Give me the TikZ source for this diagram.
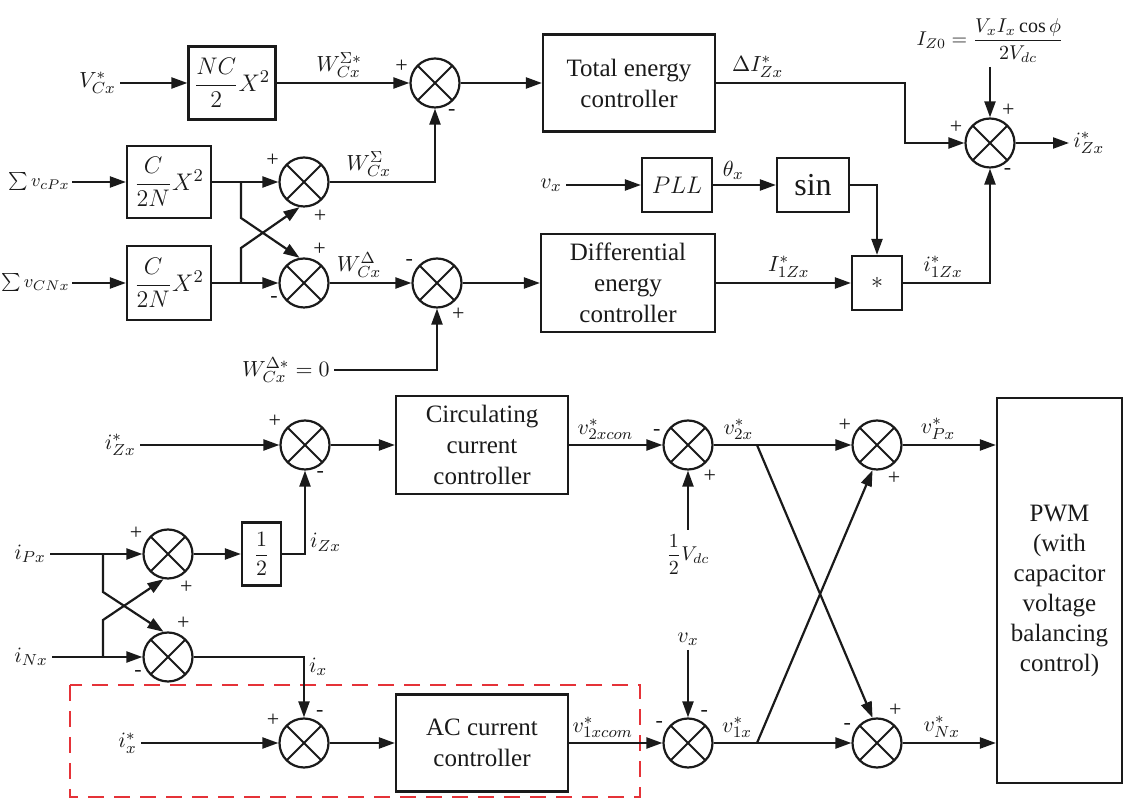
\documentclass[tikz,border=0pt]{standalone}
\usepackage{amsmath}
\usepackage{fontspec}
\setmainfont{Liberation Serif}
\usetikzlibrary{positioning,arrows.meta,calc}
\definecolor{cInk}{HTML}{1A1A1A}
\definecolor{cDash}{HTML}{E53238}
\begin{document}
\begin{tikzpicture}[x=0.5pt,y=-0.5pt,cInk,label distance=1pt,
  box/.style={draw,line width=1.1pt,inner sep=0pt,align=center,font=\rmfamily\fontsize{12.5}{15.5}\selectfont},
  sumc/.style={circle,draw,line width=1.1pt,minimum size=24.5pt,inner sep=0pt,
    path picture={\draw[line width=1pt] (path picture bounding box.north west) -- (path picture bounding box.south east)
      (path picture bounding box.north east) -- (path picture bounding box.south west);}},
  sg/.style={inner sep=0.5pt,font=\fontsize{11}{12}\selectfont},
  lab/.style={inner sep=2pt,font=\fontsize{11}{13}\selectfont},
  ar/.style={-{Triangle[length=8pt,width=5.5pt]},line width=1.1pt}]
  \useasboundingbox (0,0) rectangle (1126,801);
  % AC current loop frame
  \draw[cDash,line width=1.2pt,dash pattern=on 8pt off 5pt] (70,685) rectangle (640,797);
  % energy part: blocks
  \node[box,minimum width=43.5pt,minimum height=36.5pt] (bNC) at (232,83) {$\dfrac{NC}{2}X^{2}$};
  \node[box,minimum width=42pt,minimum height=36pt] (bP) at (169,182) {$\dfrac{C}{2N}X^{2}$};
  \node[box,minimum width=42pt,minimum height=37pt] (bN) at (169,283) {$\dfrac{C}{2N}X^{2}$};
  \node[box,minimum width=86pt,minimum height=48.5pt] (bTot) at (629,83) {Total energy\\controller};
  \node[box,minimum width=87pt,minimum height=49pt] (bDiff) at (628,283) {Differential\\energy\\controller};
  \node[box,minimum width=35pt,minimum height=27pt] (bPLL) at (677,185) {$PLL$};
  \node[box,minimum width=36pt,minimum height=27pt,font=\rmfamily\fontsize{16}{18}\selectfont] (bSin) at (813,185) {sin};
  \node[box,minimum width=25pt,minimum height=27pt] (bMul) at (877,283) {$*$};
  % sums
  \node[sumc,label={[sg]160:+},label={[sg]-65:-}] (s1) at (435,83) {};
  \node[sumc,label={[sg]150:+},label={[sg]-72:+}] (s2) at (304,182) {};
  \node[sumc,label={[sg]73:+},label={[sg]206:-}] (s3) at (304,283) {};
  \node[sumc,label={[sg]145:-},label={[sg]-60:+}] (s4) at (437,283) {};
  \node[sumc,label={[sg]163:+},label={[sg]67:+},label={[sg]-63:-}] (sR) at (990,143) {};
  % inputs and outputs
  \node[lab,anchor=east] (lVC) at (120,83) {$V_{Cx}^{*}$};
  \node[lab,anchor=east,inner sep=1pt,font=\fontsize{9.5}{11}\selectfont] (lvP) at (72,182) {$\sum v_{cPx}$};
  \node[lab,anchor=east,inner sep=1pt,font=\fontsize{9.5}{11}\selectfont] (lvN) at (72,283) {$\sum v_{CNx}$};
  \node[lab,anchor=south,font=\fontsize{10}{12}\selectfont] (lIZ0) at (990,67) {$I_{Z0}=\dfrac{V_xI_x\cos\phi}{2V_{dc}}$};
  \node[lab,anchor=west] (lIZx) at (1069,143) {$i_{Zx}^{*}$};
  \node[lab,anchor=east] (lvx) at (566,185) {$v_x$};
  \node[lab,anchor=east] (lW0) at (334,370) {$W_{Cx}^{\Delta *}=0$};
  \coordinate (kTot) at (905,83);
  \coordinate (jP) at (241,182);
  \coordinate (jP2) at (241,218);
  \coordinate (jN) at (241,283);
  \coordinate (jN2) at (241,248);
  % energy part: connectors
  \draw[ar] (lVC.east) -- (bNC.west);
  \draw[ar] (bNC.east) -- node[lab,above,pos=0.47]{$W_{Cx}^{\Sigma *}$} (s1.west);
  \draw[ar] (s1.east) -- (bTot.west);
  \draw[ar] (bTot.east) -- node[lab,above,pos=0.22]{$\Delta I_{Zx}^{*}$} (kTot) |- (sR.west);
  \draw[ar] (lIZ0.south) -- (sR.north);
  \draw[ar] (sR.east) -- (lIZx.west);
  \draw[ar] (lvP.east) -- (bP.west);
  \draw[ar] (bP.east) -- (s2.west);
  \draw[ar] (jP) -- (jP2) -- (s3.100);
  \draw[ar] (s2.east) -| node[lab,above,pos=0.185]{$W_{Cx}^{\Sigma}$} (s1.south);
  \draw[ar] (lvN.east) -- (bN.west);
  \draw[ar] (bN.east) -- (s3.west);
  \draw[ar] (jN) -- (jN2) -- (s2.260);
  \draw[ar] (s3.east) -- node[lab,above,pos=0.36]{$W_{Cx}^{\Delta}$} (s4.west);
  \draw[ar] (lW0.east) -| (s4.south);
  \draw[ar] (s4.east) -- (bDiff.west);
  \draw[ar] (bDiff.east) -- node[lab,above,pos=0.54]{$I_{1Zx}^{*}$} (bMul.west);
  \draw[ar] (lvx.east) -- (bPLL.west);
  \draw[ar] (bPLL.east) -- node[lab,above,pos=0.32]{$\theta_x$} (bSin.west);
  \draw[ar] (bSin.east) -| (bMul.north);
  \draw[ar] (bMul.east) -| node[lab,above,pos=0.23]{$i_{1Zx}^{*}$} (sR.south);
  % current part: blocks
  \node[box,minimum width=86pt,minimum height=49pt] (bCirc) at (482,445) {Circulating\\current\\controller};
  \node[box,minimum width=19.5pt,minimum height=31.5pt,font=\fontsize{10.5}{12}\selectfont] (bHalf) at (261.5,554) {$\dfrac{1}{2}$};
  \node[box,minimum width=86pt,minimum height=48.5pt] (bAC) at (482,743) {AC current\\controller};
  \node[box,minimum width=62.5pt,minimum height=192.5pt,font=\rmfamily\fontsize{12.5}{15}\selectfont] (bPWM) at (1059.5,590.5)
    {PWM\\(with\\capacitor\\voltage\\balancing\\control)};
  \node[sumc,label={[sg]145:+},label={[sg]-68:-}] (s5) at (305,445) {};
  \node[sumc,label={[sg]162:-},label={[sg]-59:+}] (s6) at (688,445) {};
  \node[sumc,label={[sg]153:+},label={[sg]-70:+}] (s7) at (877,445) {};
  \node[sumc,label={[sg]152:+},label={[sg]-67:+}] (s8) at (168,554) {};
  \node[sumc,label={[sg]74:+},label={[sg]205:-}] (s9) at (168,657) {};
  \node[sumc,label={[sg]148:+},label={[sg]67:-}] (s10) at (304,743) {};
  \node[sumc,label={[sg]149:-},label={[sg]66:-}] (s11) at (688,743) {};
  \node[sumc,label={[sg]153:-},label={[sg]67:+}] (s12) at (877,743) {};
  \node[lab,anchor=east] (liZ) at (140,445) {$i_{Zx}^{*}$};
  \node[lab,anchor=east] (liP) at (50,554) {$i_{Px}$};
  \node[lab,anchor=east] (liN) at (52,657) {$i_{Nx}$};
  \node[lab,anchor=east] (lix) at (141,743) {$i_{x}^{*}$};
  \node[lab,anchor=north,font=\fontsize{10}{12}\selectfont] (lVdc) at (688,530) {$\dfrac{1}{2}V_{dc}$};
  \node[lab,anchor=south] (lvx2) at (688,650) {$v_x$};
  \coordinate (jiP) at (103,554);
  \coordinate (jiP2) at (103,592);
  \coordinate (jiN) at (103,657);
  \coordinate (jiN2) at (103,620);
  \coordinate (j2x) at (757,445);
  \coordinate (j1x) at (757,743);
  % current part: connectors
  \draw[ar] (liZ.east) -- (s5.west);
  \draw[ar] (s5.east) -- (bCirc.west);
  \draw[ar] (bCirc.east) -- node[lab,above,pos=0.39]{$v_{2xcon}^{*}$} (s6.west);
  \draw[ar] (lVdc.north) -- (s6.south);
  \draw[ar] (s6.east) -- node[lab,above,pos=0.18]{$v_{2x}^{*}$} (s7.west);
  \draw[ar] (j2x) -- (s12.100);
  \draw[ar] (s7.east) -- node[lab,above,pos=0.38]{$v_{Px}^{*}$} (s7 -| bPWM.west);
  \draw[ar] (liP.east) -- (s8.west);
  \draw[ar] (jiP) -- (jiP2) -- (s9.100);
  \draw[ar] (s8.east) -- (bHalf.west);
  \draw[ar] (bHalf.east) -| node[lab,right,pos=0.57]{$i_{Zx}$} (s5.south);
  \draw[ar] (liN.east) -- (s9.west);
  \draw[ar] (jiN) -- (jiN2) -- (s8.260);
  \draw[ar] (s9.east) -| node[lab,right,pos=0.58]{$i_{x}$} (s10.north);
  \draw[ar] (lix.east) -- (s10.west);
  \draw[ar] (s10.east) -- (bAC.west);
  \draw[ar] (bAC.east) -- node[lab,above,pos=0.36]{$v_{1xcom}^{*}$} (s11.west);
  \draw[ar] (lvx2.south) -- (s11.north);
  \draw[ar] (s11.east) -- node[lab,above,pos=0.17]{$v_{1x}^{*}$} (s12.west);
  \draw[ar] (j1x) -- (s7.260);
  \draw[ar] (s12.east) -- node[lab,above,pos=0.42]{$v_{Nx}^{*}$} (s12 -| bPWM.west);
\end{tikzpicture}
\end{document}
